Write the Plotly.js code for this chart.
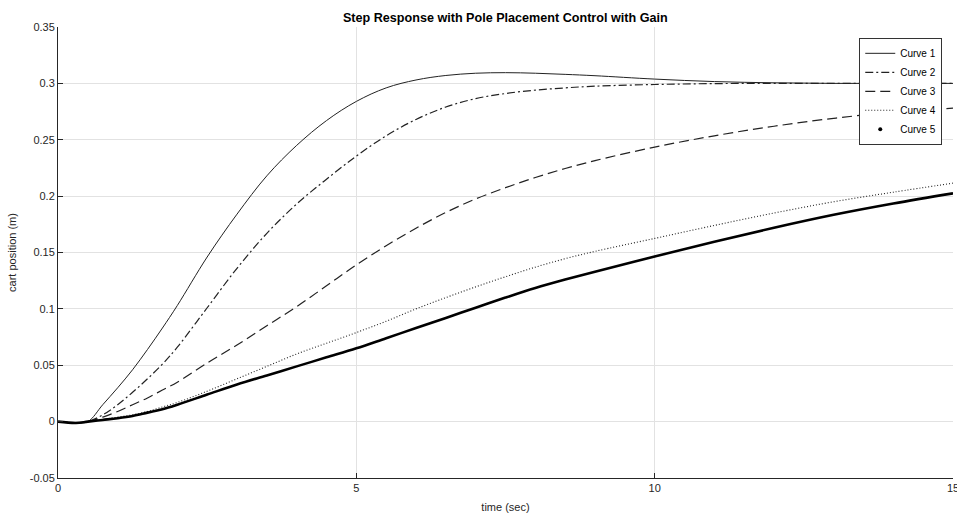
<!DOCTYPE html>
<html>
<head>
<meta charset="utf-8">
<script src="https://cdn.plot.ly/plotly-3.0.1.min.js"></script>
<style>html,body{margin:0;padding:0;background:#fff;}#chart{width:957px;height:519px;}</style>
</head>
<body>
<div id="chart"></div>
<script>
// time samples (sec)
const time = [0,0.3,0.5,0.75,1,1.25,1.5,1.75,2,2.5,3,3.5,4,4.5,5,5.5,6,6.5,7,7.5,8,8.5,9,10,11,12,13,14,15];
// cart position (m) for each curve
const curve1 = [0,-0.001,0,0.015,0.030,0.046,0.064,0.083,0.103,0.146,0.184,0.218,0.245,0.267,0.284,0.296,0.303,0.307,0.309,0.3095,0.309,0.308,0.3068,0.3038,0.3016,0.3005,0.300,0.300,0.300];
const curve2 = [0,-0.001,0,0.006,0.015,0.026,0.038,0.051,0.066,0.101,0.136,0.167,0.193,0.215,0.2355,0.2535,0.268,0.279,0.2865,0.291,0.294,0.296,0.2975,0.299,0.2998,0.300,0.300,0.300,0.300];
const curve3 = [0,-0.001,0,0.004,0.009,0.015,0.021,0.028,0.035,0.052,0.068,0.085,0.102,0.1205,0.139,0.156,0.1715,0.1855,0.1975,0.2075,0.2165,0.2245,0.2315,0.2435,0.2535,0.262,0.269,0.2745,0.278];
const curve4 = [0,-0.0012,0,0.002,0.004,0.006,0.009,0.013,0.017,0.027,0.038,0.049,0.060,0.0695,0.079,0.089,0.100,0.110,0.1195,0.1285,0.137,0.1445,0.151,0.1625,0.174,0.185,0.195,0.2035,0.2115];
const curve5 = [0,-0.0012,0,0.0015,0.003,0.005,0.008,0.011,0.015,0.024,0.033,0.041,0.049,0.057,0.065,0.074,0.083,0.092,0.101,0.110,0.1185,0.126,0.133,0.1465,0.1595,0.172,0.1835,0.1935,0.2025];
const names = ["Curve 1","Curve 2","Curve 3","Curve 4","Curve 5"];
const xTicks = [0,5,10,15];
const yTicks = [-0.05,0,0.05,0.1,0.15,0.2,0.25,0.3,0.35];
const yTickText = ["-0.05","0","0.05","0.1","0.15","0.2","0.25","0.3","0.35"];

const FONT = "Liberation Sans, Arial, sans-serif";
const traces = [
  {x: time, y: curve1, name: names[0], mode: "lines", line: {color: "#222", width: 1, dash: "solid", shape: "spline"}},
  {x: time, y: curve2, name: names[1], mode: "lines", line: {color: "#222", width: 1.2, dash: "8px,3px,2px,3px", shape: "spline"}},
  {x: time, y: curve3, name: names[2], mode: "lines", line: {color: "#222", width: 1.2, dash: "10px,5px", shape: "spline"}},
  {x: time, y: curve4, name: names[3], mode: "lines", line: {color: "#222", width: 1.1, dash: "1px,2px", shape: "spline"}},
  {x: time, y: curve5, name: names[4], mode: "lines", showlegend: false, line: {color: "#000", width: 2.6, shape: "spline"}},
  {x: [null], y: [null], name: names[4], mode: "markers", marker: {color: "#000", size: 4}}
];

const layout = {
  width: 957, height: 519,
  margin: {l: 58, r: 4, t: 27, b: 41},
  paper_bgcolor: "#fff", plot_bgcolor: "#fff",
  font: {family: FONT, size: 11, color: "#262626"},
  title: {text: "<b>Step Response with Pole Placement Control with Gain</b>", font: {family: FONT, size: 12.6, color: "#000"},
          x: 0.528, xanchor: "center", y: 0.966, yanchor: "middle", yref: "container"},
  xaxis: {range: [0, 15], tickvals: xTicks, ticks: "inside", ticklen: 5, tickcolor: "#262626",
          ticklabeloverflow: "allow",
          showline: true, linecolor: "#262626", linewidth: 1, mirror: false,
          showgrid: true, gridcolor: "#e2e2e2", gridwidth: 1, zeroline: false,
          title: {text: "time (sec)", font: {size: 11, color: "#262626"}, standoff: 10}},
  yaxis: {range: [-0.05, 0.35], tickvals: yTicks, ticktext: yTickText, ticks: "inside", ticklen: 5, tickcolor: "#262626",
          showline: true, linecolor: "#262626", linewidth: 1, mirror: false,
          showgrid: true, gridcolor: "#e2e2e2", gridwidth: 1, zeroline: false,
          title: {text: "cart position (m)", font: {size: 11, color: "#262626"}, standoff: 10}},
  legend: {x: 0.988, xanchor: "right", y: 0.976, yanchor: "top", bgcolor: "#fff",
           bordercolor: "#333", borderwidth: 1, font: {size: 10, color: "#000"}, tracegroupgap: 0,
           itemwidth: 30},
  showlegend: true
};

Plotly.newPlot("chart", traces, layout, {displayModeBar: false, staticPlot: true});
</script>
</body>
</html>
